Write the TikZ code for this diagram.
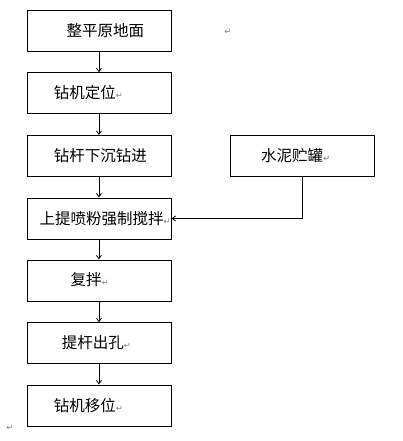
\documentclass[tikz,border=0pt]{standalone}
\usepackage{fontspec}
\newfontfamily\cjk{Noto Sans CJK SC}
\newfontfamily\dvs{DejaVu Sans}
\usetikzlibrary{arrows.meta}
\newcommand\retm{{\dvs\fontsize{8.5}{8.5}\selectfont\textcolor{gray}{↵}}}
\begin{document}
\begin{tikzpicture}[x=1pt,y=-1pt,
  box/.style={draw,line width=0.9pt,minimum width=144pt,minimum height=41pt,inner sep=0pt,anchor=north west},
  lbl/.style={font=\cjk\fontsize{15.5}{16}\selectfont,anchor=west,inner sep=0pt},
  retmark/.style={font=\dvs\fontsize{8.5}{8.5}\selectfont,text=gray,inner sep=0pt},
  arr/.style={line width=0.8pt,-{Straight Barb[length=3.5pt,width=5pt]}}]
\useasboundingbox (0,0) rectangle (402,441);
\node[box] (b1) at (26.5,10.3) {};
\node[box] (b2) at (26.5,72.3) {};
\node[box] (b3) at (26.5,135) {};
\node[box] (b4) at (26.5,197.5) {};
\node[box] (b5) at (26.5,259.5) {};
\node[box] (b6) at (26.5,322.3) {};
\node[box] (b7) at (26.5,384.5) {};
\node[box] (r) at (230.3,135.3) {};
\node[lbl] (t1) at (66.5,31) {整平原地面};
\node[lbl] (t2) at (53.7,92.5) {钻机定位\retm};
\node[lbl] (t3) at (53.7,155.5) {钻杆下沉钻进};
\node[lbl] (t4) at (39.5,218.5) {上提喷粉强制搅拌\retm};
\node[lbl] (t5) at (70.5,280) {复拌\retm};
\node[lbl] (t6) at (61.7,343) {提杆出孔\retm};
\node[lbl] (t7) at (53.7,406) {钻机移位\retm};
\node[lbl] (tr) at (261,156) {水泥贮罐\retm};
\node[retmark] (m1) at (228,32) {↵};
\node[retmark] (m2) at (10,428) {↵};
\draw[arr] (b1.south) -- (b2.north);
\draw[arr] (b2.south) -- (b3.north);
\draw[arr] (b3.south) -- (b4.north);
\draw[arr] (b4.south) -- (b5.north);
\draw[arr] (b5.south) -- (b6.north);
\draw[arr] (b6.south) -- (b7.north);
\draw[arr] (r.south) |- (b4.east);
\end{tikzpicture}
\end{document}
